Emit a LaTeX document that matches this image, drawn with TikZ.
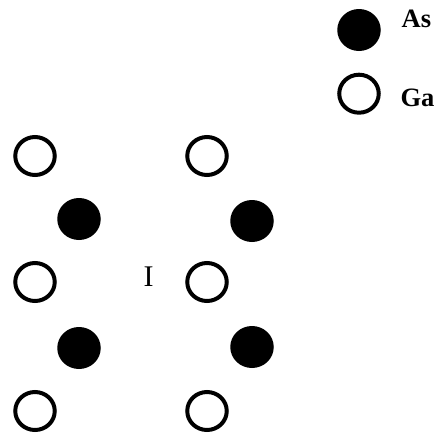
\documentclass[tikz,border=0pt]{standalone}
\usepackage{fontspec}
\setmainfont{Liberation Serif}
\usetikzlibrary{shapes.geometric}
\begin{document}
\begin{tikzpicture}[x=1pt,y=-1pt,
  ga/.style={ellipse,draw=black,line width=4pt,fill=white,
    minimum width=39.5pt,minimum height=38pt,inner sep=0pt},
  as/.style={ellipse,fill=black,minimum width=43.5pt,minimum height=42pt,inner sep=0pt},
  legendlabel/.style={anchor=base west,inner sep=0pt,
    font=\fontsize{26.5}{32}\selectfont\bfseries},
  marklabel/.style={anchor=base,inner sep=0pt,font=\fontsize{30}{36}\selectfont}]
  \useasboundingbox (0,0) rectangle (437,437);

  % legend
  \node[as] (legAs) at (359,30) {};
  \node[legendlabel] (txtAs) at (401.5,27.3) {As};
  \node[ga] (legGa) at (359,93.7) {};
  \node[legendlabel] (txtGa) at (400.3,106.5) {Ga};

  % Ga sites
  \node[ga] (ga11) at (35,156) {};
  \node[ga] (ga21) at (35,282) {};
  \node[ga] (ga31) at (35,411) {};
  \node[ga] (ga12) at (207,156) {};
  \node[ga] (ga22) at (207,282) {};
  \node[ga] (ga32) at (207,411) {};

  % As sites
  \node[as] (as11) at (79,219) {};
  \node[as] (as21) at (79,348) {};
  \node[as] (as12) at (252,221) {};
  \node[as] (as22) at (252,347) {};

  % interstitial position
  \node[marklabel] (inter) at (148.5,286.7) {I};
\end{tikzpicture}
\end{document}
